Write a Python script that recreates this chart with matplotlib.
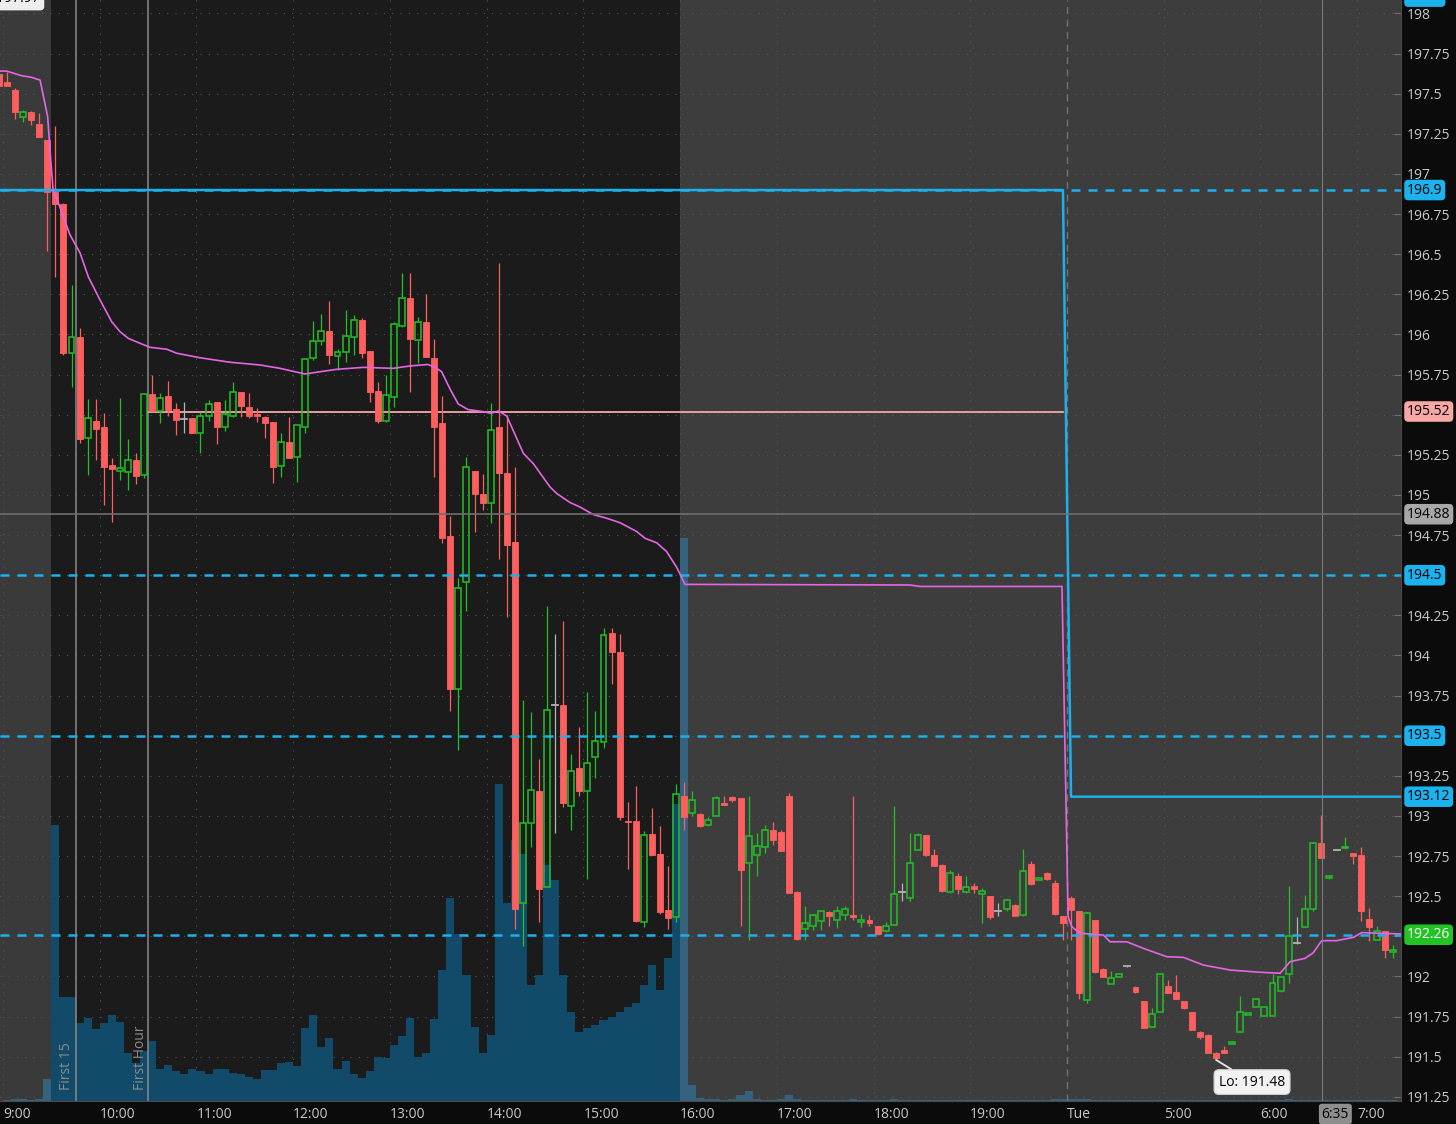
import numpy as np
import pandas as pd
import matplotlib
matplotlib.use("Agg")
import matplotlib.pyplot as plt
import matplotlib.transforms as mtransforms
from matplotlib.patches import Rectangle

plt.rcParams['font.family'] = ['Open Sans', 'DejaVu Sans']

# ---------------- data ----------------
mon_bars = pd.date_range("2024-03-04 08:55", "2024-03-04 19:55", freq="5min")
tue_bars = pd.date_range("2024-03-05 04:00", "2024-03-05 07:20", freq="5min")

opens = [197.62, 197.57, 197.523, 197.354, 197.386, 197.311, 197.211, 196.887, 196.813, 195.885,
         195.985, 195.356, 195.461, 195.424, 195.187, 195.15, 195.144, 195.219, 195.125, 195.63,
         195.524, 195.617, 195.536, 195.474, 195.48, 195.387, 195.493, 195.58, 195.424, 195.493,
         195.642, 195.549, 195.505, 195.486, 195.455, 195.181, 195.331, 195.237, 195.424, 195.854,
         195.96, 196.022, 195.866, 195.891, 195.985, 196.09, 195.897, 195.648, 195.461, 195.611,
         196.053, 196.227, 195.966, 196.078, 195.854, 195.449, 194.745, 193.793, 194.459, 195.15,
         195.007, 194.951, 195.424, 195.138, 194.708, 192.456, 192.958, 193.157, 192.56, 193.693,
         193.693, 193.061, 193.297, 193.157, 193.367, 193.459, 194.138, 194.021, 192.97, 192.969,
         192.337, 192.885, 192.763, 192.412, 192.373, 193.124, 193.019, 193.014, 192.941, 193.002,
         193.081, 193.118, 193.112, 192.707, 192.754, 192.804, 192.915, 192.898, 193.126, 192.524,
         192.296, 192.312, 192.348, 192.4, 192.354, 192.381, 192.385, 192.338, 192.354, 192.312,
         192.285, 192.323, 192.527, 192.489, 192.79, 192.879, 192.759, 192.697, 192.527, 192.624,
         192.524, 192.562, 192.516, 192.499, 192.406, 192.421, 192.447, 192.381, 192.701, 192.603,
         192.645, 192.583, 192.375, 192.489, 192.406, 191.856, 192.35, 192.047, 191.956, 191.997,
         192.063, 191.935, 191.845, 191.686, 191.777, 191.943, 191.902, 191.845, 191.779, 191.655,
         191.638, 191.524, 191.54, 191.581, 191.655, 191.76, 191.811, 191.752, 191.752, 191.908,
         192.018, 192.209, 192.308, 192.421, 192.832, 192.614, 192.79, 192.798, 192.77, 192.759,
         192.36, 192.225, 192.281, 192.15]
highs = [197.64, 197.635, 197.535, 197.398, 197.39, 197.38, 197.211, 197.30, 196.82, 196.308,
         196.04, 195.598, 195.598, 195.511, 195.231, 195.605, 195.349, 195.262, 195.636, 195.748,
         195.636, 195.71, 195.574, 195.58, 195.48, 195.518, 195.592, 195.58, 195.592, 195.704,
         195.642, 195.636, 195.542, 195.49, 195.455, 195.387, 195.486, 195.437, 195.85, 196.084,
         196.128, 196.209, 195.91, 196.153, 196.122, 196.103, 195.9, 195.704, 195.748, 196.078,
         196.383, 196.383, 196.109, 196.252, 195.972, 195.617, 194.87, 194.484, 195.237, 195.15,
         195.131, 195.574, 196.445, 195.499, 195.175, 193.72, 193.65, 193.353, 194.31, 194.132,
         194.216, 193.388, 193.554, 193.77, 193.651, 194.174, 194.174, 194.132, 193.089, 193.186,
         192.908, 193.052, 192.935, 192.69, 193.201, 193.213, 193.157, 193.02, 192.994, 193.122,
         193.127, 193.127, 193.112, 193.122, 192.894, 192.946, 192.963, 192.915, 193.14, 192.53,
         192.437, 192.39, 192.406, 192.406, 192.437, 192.437, 193.126, 192.39, 192.381, 192.315,
         192.341, 193.06, 192.585, 192.894, 192.894, 192.88, 192.794, 192.7, 192.666, 192.645,
         192.624, 192.583, 192.552, 192.5, 192.458, 192.48, 192.45, 192.794, 192.72, 192.62,
         192.65, 192.603, 192.375, 192.504, 192.41, 192.4, 192.35, 192.05, 192.032, 192.02,
         192.068, 191.94, 191.85, 191.804, 192.02, 191.981, 192.012, 191.85, 191.78, 191.66,
         191.64, 191.53, 191.565, 191.595, 191.881, 191.772, 191.86, 191.811, 192.018, 192.0,
         192.566, 192.371, 192.51, 192.835, 193.008, 192.63, 192.795, 192.869, 192.77, 192.804,
         192.427, 192.312, 192.285, 192.198]
lows = [197.55, 197.548, 197.342, 197.323, 197.305, 197.23, 196.52, 196.358, 195.87, 195.673,
        195.325, 195.125, 195.219, 194.938, 194.833, 195.094, 195.032, 195.069, 195.107, 195.524,
        195.449, 195.493, 195.374, 195.387, 195.387, 195.262, 195.461, 195.318, 195.399, 195.486,
        195.486, 195.48, 195.455, 195.356, 195.075, 195.113, 195.231, 195.082, 195.387, 195.841,
        195.935, 195.816, 195.779, 195.829, 195.872, 195.854, 195.58, 195.449, 195.455, 195.549,
        196.047, 195.642, 195.823, 195.86, 195.113, 194.702, 193.656, 193.413, 194.278, 194.77,
        194.907, 194.826, 194.602, 194.241, 192.295, 192.19, 192.805, 192.337, 192.56, 192.893,
        193.055, 192.915, 193.124, 192.607, 193.236, 193.423, 193.82, 192.977, 192.672, 192.337,
        192.31, 192.754, 192.39, 192.295, 192.337, 192.912, 192.997, 192.93, 192.935, 192.997,
        193.066, 193.09, 192.312, 192.23, 192.624, 192.77, 192.821, 192.78, 192.52, 192.23,
        192.23, 192.29, 192.29, 192.312, 192.3, 192.354, 192.354, 192.31, 192.312, 192.26,
        192.275, 192.323, 192.468, 192.468, 192.79, 192.75, 192.686, 192.524, 192.52, 192.516,
        192.52, 192.52, 192.334, 192.358, 192.375, 192.41, 192.375, 192.379, 192.57, 192.6,
        192.6, 192.385, 192.23, 192.23, 191.86, 191.835, 192.02, 191.997, 191.956, 191.995,
        192.058, 191.9, 191.68, 191.686, 191.777, 191.897, 191.862, 191.8, 191.665, 191.613,
        191.52, 191.48, 191.52, 191.58, 191.655, 191.758, 191.81, 191.752, 191.752, 191.905,
        191.96, 192.204, 192.308, 192.406, 192.738, 192.61, 192.785, 192.795, 192.701, 192.344,
        192.219, 192.225, 192.116, 192.116]
closes = [197.55, 197.548, 197.386, 197.386, 197.336, 197.23, 196.887, 196.813, 195.885, 195.985,
          195.349, 195.48, 195.41, 195.175, 195.163, 195.169, 195.219, 195.119, 195.63, 195.524,
          195.605, 195.53, 195.468, 195.474, 195.387, 195.493, 195.567, 195.424, 195.505, 195.642,
          195.555, 195.493, 195.493, 195.449, 195.175, 195.331, 195.231, 195.437, 195.847, 195.96,
          196.022, 195.872, 195.891, 195.991, 196.09, 195.885, 195.642, 195.461, 195.623, 196.065,
          196.227, 195.972, 196.078, 195.86, 195.424, 194.733, 193.793, 194.422, 195.175, 195.007,
          194.951, 195.405, 195.138, 194.69, 192.422, 192.958, 193.163, 192.547, 193.659, 193.693,
          193.083, 193.283, 193.157, 193.332, 193.464, 194.127, 194.021, 192.991, 192.96, 192.345,
          192.88, 192.754, 192.404, 192.365, 193.136, 192.995, 193.101, 192.935, 192.977, 193.112,
          193.066, 193.101, 192.666, 192.873, 192.815, 192.91, 192.852, 192.78, 192.521, 192.234,
          192.334, 192.381, 192.406, 192.375, 192.406, 192.423, 192.37, 192.354, 192.334, 192.267,
          192.312, 192.514, 192.527, 192.707, 192.879, 192.754, 192.686, 192.53, 192.645, 192.547,
          192.555, 192.545, 192.53, 192.371, 192.406, 192.479, 192.379, 192.66, 192.576, 192.614,
          192.607, 192.39, 192.334, 192.416, 191.897, 192.396, 192.026, 191.997, 191.991, 192.018,
          192.063, 191.904, 191.68, 191.769, 192.016, 191.897, 191.862, 191.804, 191.665, 191.624,
          191.52, 191.489, 191.52, 191.591, 191.779, 191.77, 191.86, 191.811, 191.96, 191.997,
          192.254, 192.209, 192.421, 192.832, 192.738, 192.624, 192.79, 192.806, 192.749, 192.406,
          192.308, 192.281, 192.163, 192.167]
volume_k = [0, 1, 2, 2, 1, 2, 22, 276, 104, 104,
            78, 83, 72, 78, 86, 79, 48, 38, 50, 60,
            32, 36, 30, 27, 32, 30, 27, 32, 32, 28,
            27, 24, 22, 31, 31, 38, 39, 35, 73, 86,
            54, 63, 32, 40, 27, 23, 30, 44, 43, 56,
            65, 83, 44, 48, 82, 131, 203, 167, 126, 74,
            48, 66, 317, 198, 261, 247, 116, 126, 236, 221,
            126, 89, 69, 73, 76, 81, 84, 89, 94, 98,
            116, 136, 111, 143, 297, 563, 16, 3, 2, 2,
            1, 2, 6, 10, 2, 1, 1, 2, 6, 2,
            1, 1, 1, 1, 1, 1, 2, 1, 1, 1,
            1, 2, 1, 1, 1, 1, 1, 1, 1, 1,
            1, 1, 1, 1, 1, 1, 1, 1, 1, 1,
            1, 2, 2, 2, 2, 2, 1, 1, 1, 1,
            1, 1, 1, 1, 1, 1, 1, 1, 1, 1,
            1, 1, 1, 1, 1, 1, 1, 1, 1, 1,
            2, 1, 1, 1, 1, 1, 1, 1, 1, 1,
            1, 1, 1, 1]

# VWAP knots (axis minutes, price)
vwap_min = [-1.9, 2.3, 11.6, 17.8, 23.0, 27.7, 29.6, 31.2, 33.7, 37.4, 41.6, 47.8, 52.9, 60.2,
            67.4, 72.6, 77.7, 85.0, 91.2, 101.6, 107.8, 122.2, 140.8, 159.4, 171.8, 187.3, 207.0,
            223.5, 242.1, 252.5, 263.6, 268.0, 272.1, 277.3, 282.4, 288.5, 298.0, 302.5, 307.3,
            312.5, 322.8, 329.0, 339.3, 343.5, 351.7, 357.9, 366.2, 374.5, 382.8, 393.1, 398.3,
            405.5, 411.7, 417.9, 423.1, 562.7, 568.9, 656.9, 660.7, 663.0, 668.1, 682.6, 686.7,
            697.1, 707.4, 721.9, 732.2, 744.6, 761.2, 779.8, 792.2, 798.4, 807.7, 812.8, 818.0,
            827.3, 837.7, 842.9, 854.3, 867.2]
vwap_px = [197.641, 197.641, 197.612, 197.602, 197.585, 197.357, 197.087, 196.889, 196.838, 196.734,
           196.620, 196.508, 196.360, 196.215, 196.080, 196.017, 195.976, 195.945, 195.920, 195.908,
           195.883, 195.855, 195.827, 195.810, 195.789, 195.754, 195.783, 195.795, 195.789, 195.804,
           195.813, 195.795, 195.768, 195.660, 195.567, 195.532, 195.519, 195.509, 195.523, 195.492,
           195.259, 195.195, 195.050, 195.009, 194.953, 194.925, 194.878, 194.855, 194.827, 194.772,
           194.730, 194.702, 194.647, 194.549, 194.443, 194.439, 194.430, 194.430, 192.372, 192.310,
           192.269, 192.258, 192.216, 192.216, 192.175, 192.123, 192.119, 192.071, 192.040, 192.026,
           192.020, 192.092, 192.113, 192.148, 192.223, 192.223, 192.244, 192.273, 192.269, 192.265]

levels_dashed = [196.9, 194.5, 193.5, 192.26]
level_mon, level_tue = 196.9, 193.12
pivot_price = 195.52
crosshair_price = 194.88
low_price = 191.48
price_ticks = np.round(np.arange(191.25, 198.001, 0.25), 2)
time_tick_min = [0, 60, 120, 180, 240, 300, 360, 420, 480, 540, 600, 660, 720, 780, 840]
time_tick_lab = ["9:00", "10:00", "11:00", "12:00", "13:00", "14:00", "15:00", "16:00",
                 "17:00", "18:00", "19:00", "Tue", "5:00", "6:00", "7:00"]
level_tags = [(198.105, "198.1", '#1cb2ee', 'black'),
              (196.9, "196.9", '#1cb2ee', 'black'),
              (195.52, "195.52", '#f7a8a4', 'black'),
              (194.88, "194.88", '#a8a8a8', 'black'),
              (194.5, "194.5", '#1cb2ee', 'black'),
              (193.5, "193.5", '#1cb2ee', 'black'),
              (193.12, "193.12", '#1cb2ee', 'black'),
              (192.26, "192.26", '#22c425', 'white')]

# ---------------- axis minute mapping ----------------
mon_m = (mon_bars - pd.Timestamp("2024-03-04 09:00")).total_seconds().values / 60.0
tue_m = 660 + (tue_bars - pd.Timestamp("2024-03-05 04:00")).total_seconds().values / 60.0
bar_m = np.concatenate([mon_m, tue_m])
xc = bar_m + 2.5
regular = np.concatenate([(mon_m >= 30) & (mon_m < 420), np.zeros(len(tue_m), bool)])

BLUE = '#1cb0ec'
GREEN = '#22c125'
RED = '#ff5f5f'
GRAY = '#b4b4b4'

W, H = 1456, 1124
fig = plt.figure(figsize=(W / 100, H / 100), dpi=100, facecolor='#0b0b0b')
rect = [0, 23 / H, 1401 / W, 1101 / H]
ax_bg = fig.add_axes(rect)
ax = fig.add_axes(rect, sharex=ax_bg)
ax.patch.set_visible(False)
XMIN, XMAX = -1.86, 867.2
YMIN, YMAX = 191.224, 198.084

# backgrounds
ax_bg.axvspan(XMIN, 30, color='#3a3a3a', lw=0, zorder=0)
ax_bg.axvspan(30, 420, color='#1b1b1b', lw=0, zorder=0)
ax_bg.axvspan(420, XMAX, color='#3d3d3d', lw=0, zorder=0)

# dotted grid
gtrans = mtransforms.blended_transform_factory(ax_bg.transData, ax.transData)
for p in price_ticks:
    ax_bg.plot([XMIN, XMAX], [p, p], transform=gtrans, color='#5c5c5c', lw=0.75,
               ls=(0, (1, 7)), zorder=1)
for m in [0, 60, 120, 180, 240, 300, 360, 420, 480, 540, 600, 720, 780, 840]:
    ax_bg.axvline(m, color='#5c5c5c', lw=0.75, ls=(0, (1, 7)), zorder=1)

# volume
vcol = np.where(regular, '#114b69', '#36627e')
ax_bg.bar(xc, volume_k, width=5.0, color=vcol, lw=0, zorder=2)
ax_bg.set_xlim(XMIN, XMAX)
ax_bg.set_ylim(0, 1101)
ax_bg.set_axis_off()

# session markers
ax.axvline(660, color='#727272', lw=1, ls=(0, (5, 4)), zorder=1)
ax.axvline(45, color='#8a8a8a', lw=1.1, zorder=1)
ax.axvline(90, color='#8a8a8a', lw=1.1, zorder=1)
ax.text(39.1, 191.293, "First 15", rotation=90, ha='center', va='bottom', color='#8c8c8c',
        fontsize=10, zorder=8)
ax.text(85.0, 191.293, "First Hour", rotation=90, ha='center', va='bottom', color='#8c8c8c',
        fontsize=10, zorder=8)

# candles
bw = 3.7
for x, o, h, l, c in zip(xc, opens, highs, lows, closes):
    top, bot = max(o, c), min(o, c)
    if c > o:
        ax.add_patch(Rectangle((x - bw / 2, bot), bw, top - bot, fill=False, ec=GREEN,
                               lw=1.1, zorder=5))
        ax.plot([x, x], [top, h], color=GREEN, lw=0.9, zorder=5, solid_capstyle='butt')
        ax.plot([x, x], [l, bot], color=GREEN, lw=0.9, zorder=5, solid_capstyle='butt')
    elif c < o:
        ax.plot([x, x], [l, h], color=RED, lw=0.9, zorder=5, solid_capstyle='butt')
        ax.add_patch(Rectangle((x - bw / 2, bot), bw, top - bot, fc=RED, ec=RED, lw=0.6,
                               zorder=5))
    else:
        ax.plot([x, x], [l, h], color=GRAY, lw=0.9, zorder=5, solid_capstyle='butt')
        ax.plot([x - bw / 2, x + bw / 2], [o, o], color=GRAY, lw=1.3, zorder=5)

# levels
for p in levels_dashed:
    ax.axhline(p, color=BLUE, lw=1.8, ls=(0, (3.6, 3.2)), zorder=6)
ax.plot([XMIN, xc[len(mon_m) - 1], xc[len(mon_m)], XMAX],
        [level_mon, level_mon, level_tue, level_tue], color=BLUE, lw=1.8, zorder=6)
ax.plot([90, xc[len(mon_m) - 1]], [pivot_price, pivot_price], color='#f5a8a8', lw=1.3, zorder=4)

# VWAP
ax.plot(vwap_min, vwap_px, color='#e466e4', lw=1.2, zorder=7)

# crosshair
cross_m = 815 + 3
ax.axvline(cross_m, color='#7c7c7c', lw=0.8, zorder=8)
ax.axhline(crosshair_price, color='#6e6e6e', lw=1.2, zorder=8)

# low bubble
lo_idx = int(np.argmin(lows))
ax.annotate(f"Lo: {low_price:.2f}", xy=(xc[lo_idx], low_price), xytext=(774.8, 191.342),
            ha='center', va='center', fontsize=10, color='black', zorder=9,
            bbox=dict(boxstyle='round,pad=0.35', fc='#f2f2f2', ec='#cfcfcf', lw=0.8),
            arrowprops=dict(arrowstyle='-', color='#e8e8e8', lw=1.3, shrinkA=0, shrinkB=0))

# Hi bubble (cut off at top)
ax.text(23, 198.092, "Hi: 197.97", ha='right', va='center', fontsize=10, color='black',
        bbox=dict(boxstyle='round,pad=0.3', fc='#eeeeee', ec='none'), clip_on=False, zorder=9)

# axes styling
ax.set_xlim(XMIN, XMAX)
ax.set_ylim(YMIN, YMAX)
for s in ['left', 'top']:
    ax.spines[s].set_visible(False)
ax.spines['right'].set_color('#4a4a4a')
ax.spines['bottom'].set_color('#4a4a4a')
ax.yaxis.tick_right()
ax.set_yticks(price_ticks)
ax.set_yticklabels([f"{p:g}" for p in price_ticks])
ax.tick_params(axis='y', direction='in', length=5, color='#707070', labelcolor='#c8c8c8',
               labelsize=10, pad=4)
ax.set_xticks(time_tick_min)
ax.set_xticklabels(time_tick_lab)
for lab in ax.get_xticklabels():
    lab.set_ha('left')
ax.tick_params(axis='x', length=0, pad=4, labelcolor='#c8c8c8', labelsize=10)

# right-axis level tags
lab_tr = mtransforms.blended_transform_factory(ax.transAxes, ax.transData)
for p, s, bg, fg in level_tags:
    ax.text(1 + 6 / 1401, p, s, transform=lab_tr, ha='left', va='center', fontsize=10,
            color=fg, clip_on=False, zorder=10,
            bbox=dict(boxstyle='round,pad=0.2,rounding_size=0.3', fc=bg, ec='none'))

# time crosshair tag
tt = mtransforms.blended_transform_factory(ax.transData, fig.transFigure)
ax.text(cross_m, 1 - 1114 / H, "6:35", transform=tt, ha='left', va='center', fontsize=10,
        color='black', clip_on=False, zorder=10,
        bbox=dict(boxstyle='round,pad=0.2', fc='#8e8e8e', ec='none'))

fig.savefig("out.png", dpi=100, facecolor=fig.get_facecolor())
